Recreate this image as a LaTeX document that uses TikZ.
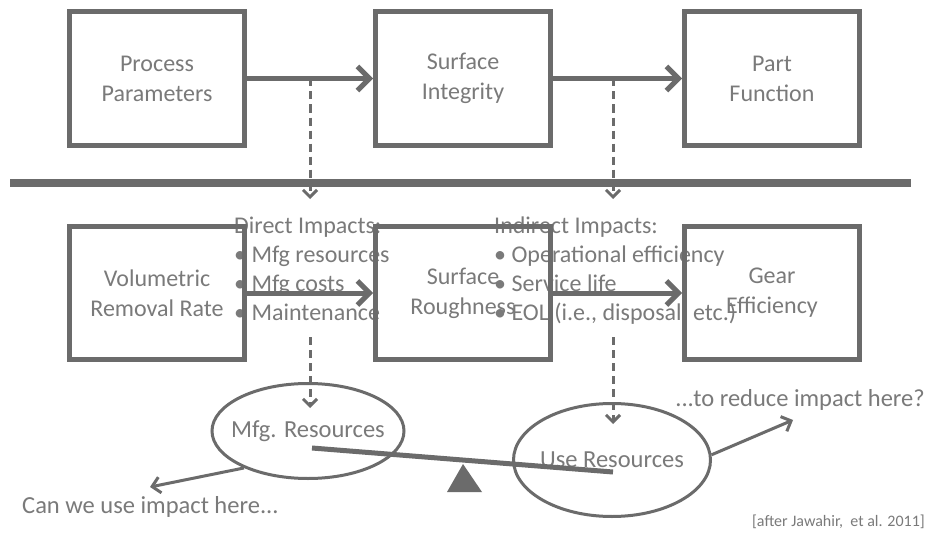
\documentclass[tikz,border=0pt]{standalone}
\usepackage{fontspec}
\setmainfont{Carlito}
\usetikzlibrary{arrows.meta,shapes.geometric}
\definecolor{linegray}{HTML}{6B6B6B}
\definecolor{textgray}{HTML}{7A7A7A}

\begin{document}
\begin{tikzpicture}[x=1pt,y=-1pt]
    \tikzstyle{stage} = [rectangle, draw=linegray, line width=5pt, minimum width=175pt, minimum height=133pt, inner sep=0pt, align=center, text=textgray, font=\fontsize{24}{30}\selectfont]
    \tikzstyle{impacts} = [align=left, anchor=north west, inner sep=0pt, text=textgray, font=\fontsize{24}{29}\selectfont]
    \tikzstyle{resource} = [ellipse, draw=linegray, line width=3pt, inner xsep=-14pt, inner ysep=0pt, text=textgray, font=\fontsize{24.5}{28}\selectfont]
    \tikzstyle{flow} = [draw=linegray, line width=5pt, -{Straight Barb[length=12pt,width=24pt]}]
    \tikzstyle{link} = [draw=linegray, line width=3pt, dash pattern=on 8pt off 5pt, -{Straight Barb[length=7pt,width=14pt]}]
    \tikzstyle{pointer} = [draw=linegray, line width=3pt, -{Straight Barb[length=8pt,width=16pt]}]
    \tikzstyle{remark} = [inner sep=0pt, text=textgray, font=\fontsize{24.5}{28}\selectfont]

    \useasboundingbox[fill=white] (0,0) rectangle (927,543);

    % Divider
    \draw[linegray, line width=8pt] (10,183) -- (911,183);

    % Impact lists (boxes are drawn over them)
    \node[impacts] (direct) at (234,217) {Direct Impacts:\\• Mfg resources\\• Mfg costs\\• Maintenance};
    \node[impacts] (indirect) at (494,217) {Indirect Impacts:\\• Operational efficiency\\• Service life\\• EOL (i.e., disposal, etc.)};

    % Stages
    \node[stage] (pp) at (157,78.5) {Process\\Parameters};
    \node[stage] (si) at (463,78.5) {Surface\\Integrity};
    \node[stage] (pf) at (772,78.5) {Part\\Function};
    \node[stage] (vr) at (157,293) {Volumetric\\Removal Rate};
    \node[stage] (sr) at (463,293) {Surface\\Roughness};
    \node[stage] (ge) at (772,293) {Gear\\Efficiency};

    \draw[flow] (pp) -- (si);
    \draw[flow] (si) -- (pf);
    \draw[flow] (vr) -- (sr);
    \draw[flow] (sr) -- (ge);

    % Dashed links
    \coordinate (dtopL) at (310,78.5);
    \coordinate (dmidL) at (310,199);
    \coordinate (dlowL) at (310,337);
    \coordinate (dendL) at (310,408);
    \coordinate (dtopR) at (613,78.5);
    \coordinate (dmidR) at (613,199);
    \coordinate (dlowR) at (613,337);
    \coordinate (dendR) at (613,424);
    \draw[link] (dtopL) -- (dmidL);
    \draw[link] (dtopR) -- (dmidR);
    \draw[link] (dlowL) -- (dendL);
    \draw[link] (dlowR) -- (dendR);

    % Resources on the balance
    \node[resource, minimum width=192pt, minimum height=95pt] (mfg) at (308,431) {Mfg. Resources};
    \node[resource, minimum width=197pt, minimum height=113pt] (use) at (612,460) {Use Resources};

    \coordinate (beamL) at (312,448);
    \coordinate (beamR) at (613,472);
    \draw[linegray, line width=5pt] (beamL) -- (beamR);
    \fill[linegray] (447,492) -- (463,464) -- (482,492) -- cycle;

    % Questions
    \coordinate (canEnd) at (150,487);
    \draw[pointer] (mfg.210) -- (canEnd);
    \node[remark, anchor=west] (can) at (22,507) {Can we use impact here...};
    \coordinate (redEnd) at (793,420);
    \draw[pointer] (use.3) -- (redEnd);
    \node[remark, anchor=east] (reduce) at (925,400) {...to reduce impact here?};
    \node[remark, anchor=east, font=\fontsize{16}{18}\selectfont] (src) at (925,522) {[after Jawahir,\ \ et al. 2011]};

\end{tikzpicture}
\end{document}
